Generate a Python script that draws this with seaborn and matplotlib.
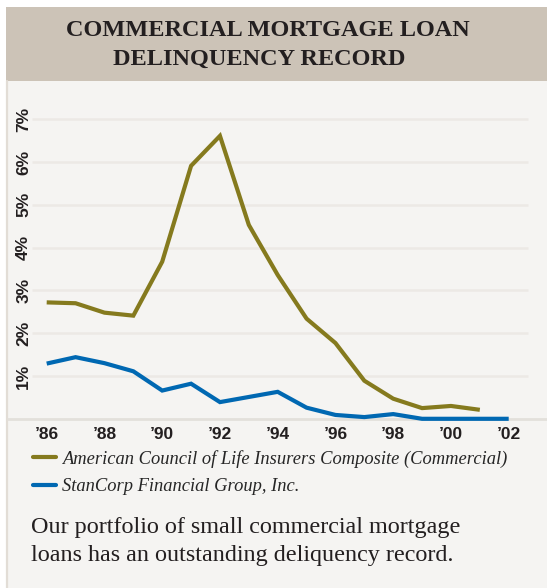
import matplotlib
matplotlib.use("Agg")
import matplotlib.pyplot as plt
from matplotlib.patches import Rectangle
from matplotlib.lines import Line2D
import seaborn as sns
import pandas as pd

# --- data -------------------------------------------------------------
years = list(range(1986, 2003))
acli_years = list(range(1986, 2002))
acli_rates = [2.72, 2.70, 2.48, 2.41, 3.67, 5.91, 6.61, 4.53, 3.36, 2.34,
              1.77, 0.89, 0.47, 0.25, 0.30, 0.21]
stancorp_rates = [1.29, 1.44, 1.30, 1.11, 0.66, 0.82, 0.39, 0.51, 0.63, 0.26,
                  0.09, 0.04, 0.11, 0.0, 0.0, 0.0, 0.0]
series_names = ["American Council of Life Insurers Composite (Commercial)",
                "StanCorp Financial Group, Inc."]
series_colors = ["#857a1e", "#0068b2"]
x_ticks = [1986, 1988, 1990, 1992, 1994, 1996, 1998, 2000, 2002]
x_tick_labels = ["\u201986", "\u201988", "\u201990", "\u201992", "\u201994",
                 "\u201996", "\u201998", "\u201900", "\u201902"]
y_ticks = [1, 2, 3, 4, 5, 6, 7]
y_tick_labels = ["1%", "2%", "3%", "4%", "5%", "6%", "7%"]
title_lines = ["COMMERCIAL MORTGAGE LOAN", "DELINQUENCY RECORD"]
caption_lines = ["Our portfolio of small commercial mortgage",
                 "loans has an outstanding deliquency record."]

df = pd.concat([
    pd.DataFrame({"year": acli_years, "rate": acli_rates, "series": series_names[0]}),
    pd.DataFrame({"year": years, "rate": stancorp_rates, "series": series_names[1]}),
])

# --- figure -----------------------------------------------------------
sns.set_theme(style="white")
W, H = 547, 588
fig = plt.figure(figsize=(W / 100, H / 100), dpi=100, facecolor="white")

def fx(px):
    return px / W

def fy(py):
    return 1 - py / H

panel_bg = "#f5f4f2"
band_bg = "#ccc3b7"
# light panel and header band, kept behind the axes
fig.patches.append(Rectangle((fx(6), 0), fx(W - 6), fy(80.5), transform=fig.transFigure,
                             facecolor=panel_bg, edgecolor="none", zorder=-3))
fig.patches.append(Rectangle((fx(6), fy(80.5)), fx(W - 6), fy(7) - fy(80.5),
                             transform=fig.transFigure, facecolor=band_bg,
                             edgecolor="none", zorder=-3))
fig.lines.append(Line2D([fx(7), fx(7)], [0, fy(80.5)], transform=fig.transFigure,
                        color="#e2ddd6", lw=1.6, zorder=-2))

title_font = dict(family=["Liberation Serif", "DejaVu Serif"], weight="bold",
                  size=17.5, color="#231f20")
fig.text(fx(268), fy(30.5), title_lines[0], ha="center", va="center", **title_font)
fig.text(fx(259), fy(59.5), title_lines[1], ha="center", va="center", **title_font)

# --- axes -------------------------------------------------------------
ax_left, ax_right = 32, 528
ax_bottom, ax_top = 418.8, 100
px_per_pct = 42.8
ax = fig.add_axes([fx(ax_left), fy(ax_bottom), fx(ax_right - ax_left), fy(ax_top) - fy(ax_bottom)])
ax.set_facecolor("none")

px_per_year = (508.7 - 46.7) / 16
ax.set_xlim(1986 - (46.7 - ax_left) / px_per_year, 2002 + (ax_right - 508.7) / px_per_year)
ax.set_ylim(0, (ax_bottom - ax_top) / px_per_pct)

for s in ax.spines.values():
    s.set_visible(False)
ax.grid(False)
for yv in y_ticks:
    ax.axhline(yv, color="#ece9e5", lw=1.8, zorder=1)
# base line running across the whole panel
ax.axhline(0, xmin=(7 - ax_left) / (ax_right - ax_left), xmax=(W - ax_left) / (ax_right - ax_left),
           color="#e3e0db", lw=2.0, clip_on=False, zorder=1)

sns.lineplot(data=df, x="year", y="rate", hue="series", hue_order=series_names,
             palette=series_colors, linewidth=3.0, legend=False, ax=ax, zorder=3)
for ln in ax.lines:
    ln.set_clip_on(False)
    ln.set_solid_joinstyle("miter")
    ln.set_solid_capstyle("butt")

tick_font = dict(family=["Liberation Sans Narrow", "Liberation Sans", "DejaVu Sans"],
                 weight="bold", size=12.5, color="#231f20")
ax.set_xticks(x_ticks)
ax.set_xticklabels(x_tick_labels, **tick_font)
ax.set_yticks(y_ticks)
ax.set_yticklabels(y_tick_labels, rotation=90, va="center", ha="center", **tick_font)
ax.tick_params(axis="both", length=0)
ax.tick_params(axis="x", pad=6)
ax.tick_params(axis="y", pad=6)
ax.set_xlabel("")
ax.set_ylabel("")

# --- legend -----------------------------------------------------------
handles = [Line2D([], [], color=c, lw=3.0) for c in series_colors]
fig.legend(handles, series_names, loc="upper left",
           bbox_to_anchor=(fx(33), fy(450)), frameon=False,
           prop=dict(family=["Liberation Serif", "DejaVu Serif"], style="italic", size=13.3),
           handlelength=1.25, handletextpad=0.3, labelspacing=0.55, borderpad=0,
           borderaxespad=0)

# --- caption ----------------------------------------------------------
cap_font = dict(family=["Liberation Serif", "DejaVu Serif"], size=17.4, color="#231f20")
fig.text(fx(31), fy(528), caption_lines[0], ha="left", va="center", **cap_font)
fig.text(fx(31), fy(556), caption_lines[1], ha="left", va="center", **cap_font)

fig.savefig("out.png", dpi=100, facecolor="white")
